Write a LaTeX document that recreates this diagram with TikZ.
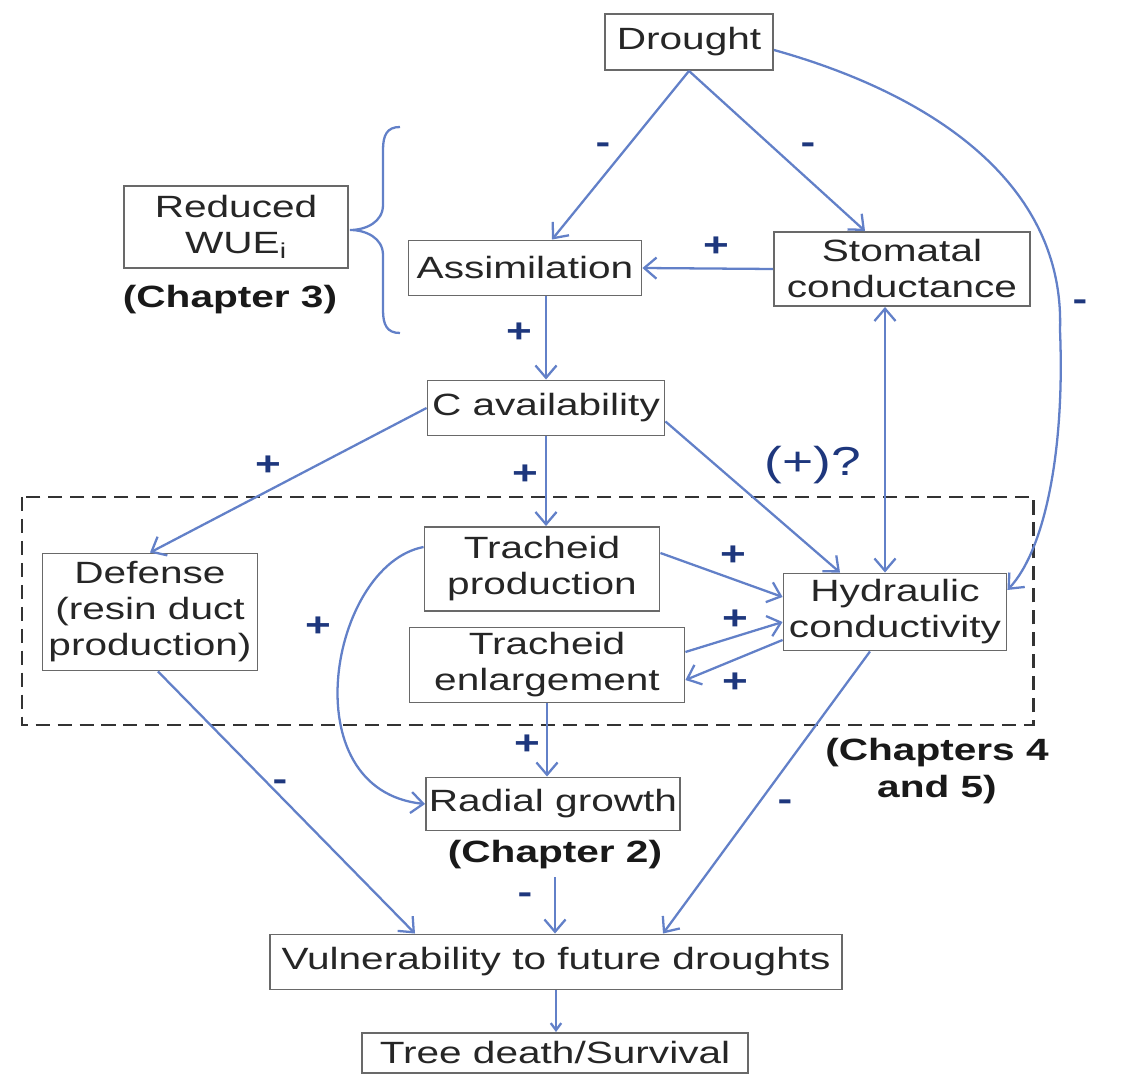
\documentclass[tikz,border=0pt]{standalone}
\usepackage{fontspec}
\setmainfont{Liberation Sans}[FakeStretch=1.32]
\usetikzlibrary{arrows.meta,calc}

\definecolor{linkblue}{RGB}{98,128,200}
\definecolor{signblue}{RGB}{30,55,125}
\definecolor{boxgray}{RGB}{105,105,105}

\tikzset{
  box/.style={draw=boxgray, line width=1.1pt, align=center, inner sep=0pt,
    text=black!85, font=\fontsize{17.5}{20.5}\selectfont},
  sign/.style={text=signblue, inner sep=0pt, font=\fontsize{19}{19}\selectfont\bfseries},
  chap/.style={align=center, inner sep=0pt, text=black!90,
    font=\fontsize{17.5}{21.5}\selectfont\bfseries},
  link/.style={draw=linkblue, line width=1.3pt,
    -{Straight Barb[length=7pt,width=12pt]}},
}

\begin{document}
\begin{tikzpicture}[x=0.02cm, y=-0.02cm]
  \useasboundingbox (0,0) rectangle (1130,1074);

  % region of chapters 4 and 5
  \draw[black!80, line width=1.7pt, dash pattern=on 8pt off 4.5pt] (22,497) rectangle (1033,725);

  \node[box, minimum width=3.36cm, minimum height=1.12cm] (drought) at (689,42) {Drought};
  \node[box, minimum width=4.48cm, minimum height=1.64cm] (wue) at (236,227) {Reduced\\WUE\textsubscript{i}};
  \node[box, minimum width=4.66cm, minimum height=1.1cm] (assim) at (525,268) {Assimilation};
  \node[box, minimum width=5.12cm, minimum height=1.48cm] (stomatal) at (902,269) {Stomatal\\conductance};
  \node[box, minimum width=4.74cm, minimum height=1.1cm] (cavail) at (546,408) {C availability};
  \node[box, minimum width=4.3cm, minimum height=2.34cm] (defense) at (150,612) {Defense\\(resin duct\\production)};
  \node[box, minimum width=4.7cm, minimum height=1.68cm] (tprod) at (542,569) {Tracheid\\production};
  \node[box, minimum width=5.5cm, minimum height=1.5cm] (tenl) at (547,665) {Tracheid\\enlargement};
  \node[box, minimum width=4.46cm, minimum height=1.54cm] (hydr) at (895,612) {Hydraulic\\conductivity};
  \node[box, minimum width=5.08cm, minimum height=1.06cm] (radial) at (553,804) {Radial growth};
  \node[box, minimum width=11.46cm, minimum height=1.1cm] (vuln) at (556,962) {Vulnerability to future droughts};
  \node[box, minimum width=7.72cm, minimum height=0.8cm] (death) at (555,1053) {Tree death/Survival};

  \node[chap] (chap3) at (230,300) {(Chapter 3)};
  \node[chap] (chap2) at (555,855) {(Chapter 2)};
  \node[chap] (chap45) at (937,771) {(Chapters 4\\and 5)};

  % brace for the leaf level
  \draw[linkblue, line width=1.3pt] (400,127) .. controls (387,127) and (383,135) .. (383,150)
    -- (383,205) .. controls (383,222) and (366,230) .. (350,230)
    .. controls (366,230) and (383,238) .. (383,255)
    -- (383,310) .. controls (383,325) and (387,333) .. (400,333);

  % links
  \coordinate (hx) at ($(hydr.north)+(-10,0)$);
  \draw[link] (drought.south) -- ($(assim.north)+(27,0)$);
  \draw[link] (drought.south) -- ($(stomatal.north)+(-37,0)$);
  \draw[link] ($(drought.east)+(0,8)$) .. controls (935,95) and (1065,185) .. (1060,330)
    .. controls (1065,450) and (1045,550) .. ($(hydr.east)+(0,-22)$);
  \draw[link] (stomatal.west) -- (assim.east);
  \draw[link] (cavail.north |- assim.south) -- (cavail.north);
  \draw[link] (cavail.west) -- (defense.north);
  \draw[link] (cavail.south) -- (cavail.south |- tprod.north);
  \draw[link] ($(cavail.south east)+(0,-15)$) -- ($(hydr.north)+(-55,0)$);
  \draw[link, {Straight Barb[length=7pt,width=12pt]}-{Straight Barb[length=7pt,width=12pt]}]
    (hx |- stomatal.south) -- (hx);
  \draw[link] ($(tprod.east)+(0,-16)$) -- ($(hydr.west)+(0,-15)$);
  \draw[link] ($(tenl.east)+(0,-13)$) -- ($(hydr.west)+(0,10)$);
  \draw[link] ($(hydr.west)+(0,28)$) -- ($(tenl.east)+(0,15)$);
  \draw[link] ($(tprod.west)+(0,-22)$) .. controls (330,565) and (290,790) .. (radial.west);
  \draw[link] (tenl.south) -- (tenl.south |- radial.north);
  \draw[link] ($(defense.south)+(8,0)$) -- ($(vuln.north)+(-141,0)$);
  \draw[link] ($(hydr.south)+(-25,0)$) -- ($(vuln.north)+(107,0)$);
  \draw[link] (chap2.south |- 0,877) -- (chap2.south |- vuln.north);
  \draw[link, -{Straight Barb[length=4pt,width=6pt]}] (vuln.south) -- (vuln.south |- death.north);

  % signs
  \node[sign] (s1) at (603,148) {-};
  \node[sign] (s2) at (808,148) {-};
  \node[sign] (s3) at (1080,305) {-};
  \node[sign] (s4) at (716,247) {+};
  \node[sign] (s5) at (519,333) {+};
  \node[sign] (s6) at (268,466) {+};
  \node[sign] (s7) at (525,475) {+};
  \node[sign, font=\fontsize{23}{23}\selectfont] (s8) at (813,465) {(+)?};
  \node[sign] (s9) at (733,556) {+};
  \node[sign] (s10) at (735,620) {+};
  \node[sign] (s11) at (735,683) {+};
  \node[sign] (s12) at (318,627) {+};
  \node[sign] (s13) at (527,745) {+};
  \node[sign] (s14) at (280,785) {-};
  \node[sign] (s15) at (785,805) {-};
  \node[sign] (s16) at (525,898) {-};
\end{tikzpicture}
\end{document}
